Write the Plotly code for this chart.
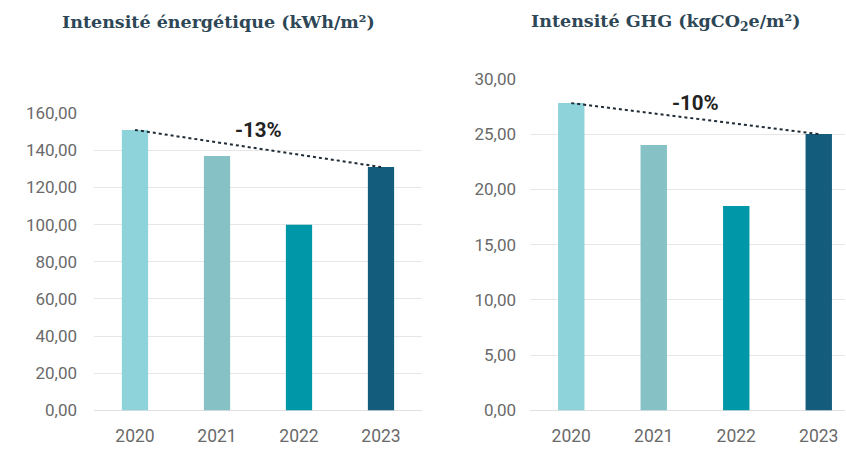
import plotly.graph_objects as go

years = ["2020", "2021", "2022", "2023"]
energy = [151, 137, 100, 131]
ghg = [27.8, 24.0, 18.5, 25.0]
bar_colors = ["#8dd3d9", "#86c2c5", "#0097a8", "#145c7c"]
energy_change = "-13%"
ghg_change = "-10%"
title_left = "Intensité énergétique (kWh/m²)"
title_right = "Intensité GHG (kgCO<sub>2</sub>e/m²)"

fig = go.Figure()

fig.add_trace(go.Bar(x=years, y=energy, marker=dict(color=bar_colors, line=dict(width=0)),
                     xaxis="x", yaxis="y", showlegend=False, hoverinfo="x+y"))
fig.add_trace(go.Scatter(x=[years[0], years[-1]], y=[energy[0], energy[-1]], mode="lines",
                         line=dict(color="#1f2b36", width=2, dash="dot"),
                         xaxis="x", yaxis="y", showlegend=False))
fig.add_trace(go.Bar(x=years, y=ghg, marker=dict(color=bar_colors, line=dict(width=0)),
                     xaxis="x2", yaxis="y2", showlegend=False, hoverinfo="x+y"))
fig.add_trace(go.Scatter(x=[years[0], years[-1]], y=[ghg[0], ghg[-1]], mode="lines",
                         line=dict(color="#1f2b36", width=2, dash="dot"),
                         xaxis="x2", yaxis="y2", showlegend=False))

W, H = 846, 450
tickfont = dict(family="Roboto, Liberation Sans, sans-serif", size=17, color="#6a6a6a")
xtickfont = dict(family="Roboto, Liberation Sans, sans-serif", size=17.5, color="#6a6a6a")

axis_common_y = dict(showgrid=True, gridcolor="#e6e6e6", gridwidth=1, zeroline=True,
                     zerolinecolor="#e0e0e0", zerolinewidth=1, showline=False,
                     tickformat=".2f", tickfont=tickfont, ticks="")
axis_common_x = dict(type="category", showgrid=False, showline=False, ticks="",
                     tickfont=xtickfont, fixedrange=True, ticklabelstandoff=13)

fig.update_layout(
    width=W, height=H,
    margin=dict(l=0, r=0, t=0, b=0),
    paper_bgcolor="white", plot_bgcolor="white",
    separators=", ",
    bargap=0.68,
    xaxis=dict(domain=[94 / W, 422 / W], range=[-0.5, 3.5], anchor="y", **axis_common_x),
    yaxis=dict(domain=[1 - 419 / H, 1 - 108 / H], range=[0, 160], dtick=20, anchor="x",
               ticklabelstandoff=16, **axis_common_y),
    xaxis2=dict(domain=[530 / W, 845 / W], range=[-0.5, -0.5 + 315 / 82.5], anchor="y2", **axis_common_x),
    yaxis2=dict(domain=[1 - 419 / H, 1 - 72 / H], range=[0, 30], dtick=5, anchor="x2",
                ticklabelstandoff=13, **axis_common_y),
    annotations=[
        dict(text=title_left, xref="paper", yref="paper", x=218 / W, y=1 - 13 / H,
             xanchor="center", yanchor="middle", showarrow=False,
             font=dict(family="DejaVu Serif, serif", size=17.5, color="#2e4756", weight="bold")),
        dict(text=title_right, xref="paper", yref="paper", x=666 / W, y=1 - 13 / H,
             xanchor="center", yanchor="middle", showarrow=False,
             font=dict(family="DejaVu Serif, serif", size=17.5, color="#2e4756", weight="bold")),
        dict(text=energy_change, xref="x", yref="y", x=1.5, y=energy[0],
             xanchor="center", yanchor="middle", showarrow=False,
             font=dict(family="Roboto, Liberation Sans, sans-serif", size=20.5, color="#222222", weight="bold")),
        dict(text=ghg_change, xref="x2", yref="y2", x=1.5, y=ghg[0],
             xanchor="center", yanchor="middle", showarrow=False,
             font=dict(family="Roboto, Liberation Sans, sans-serif", size=20.5, color="#222222", weight="bold")),
    ],
)

fig.write_html("out.html", config={"displayModeBar": False, "responsive": False})

with open("out.html", "r", encoding="utf-8") as f:
    html = f.read()
css = ('<style>html,body{margin:0;padding:0;overflow:hidden;width:846px;height:450px}'
       'body>div{height:450px;overflow:hidden;line-height:0}</style>')
html = html.replace("<head>", "<head>" + css, 1)
with open("out.html", "w", encoding="utf-8") as f:
    f.write(html)
